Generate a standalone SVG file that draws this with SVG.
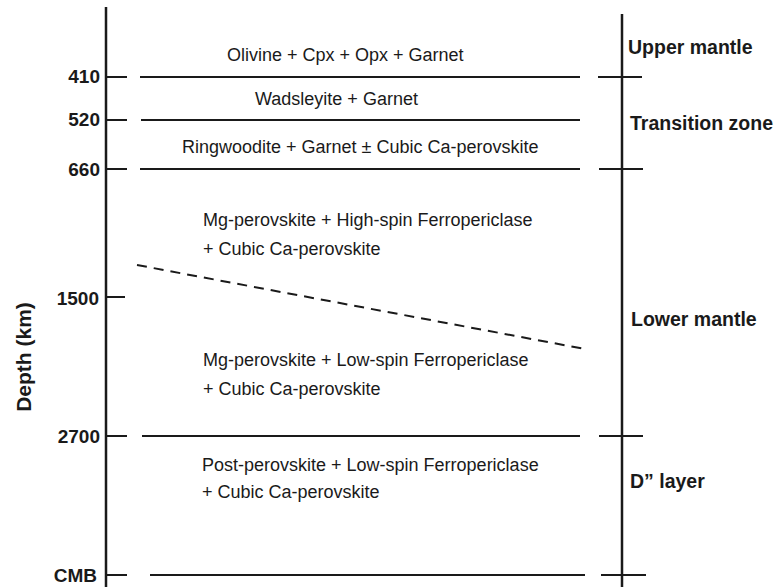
<svg xmlns="http://www.w3.org/2000/svg" width="777" height="587" viewBox="0 0 777 587">
<style>
.ln{stroke:#1a1a1a;stroke-width:2;fill:none}
.ax{stroke:#1a1a1a;stroke-width:2.5;fill:none}
.dash{stroke:#1a1a1a;stroke-width:2;fill:none;stroke-dasharray:10 7}
.t{font-family:"Liberation Sans",Arial,sans-serif;font-size:18px;fill:#1a1a1a}
.b{font-family:"Liberation Sans",Arial,sans-serif;font-size:19px;font-weight:bold;fill:#1a1a1a}
.r{font-size:19.5px}
.n{text-anchor:end}
</style>
<rect width="777" height="587" fill="#fff"/>
<g id="axes">
<line class="ax" x1="106" y1="7" x2="106" y2="587"/>
<line class="ax" x1="622" y1="14" x2="622" y2="587"/>
</g>
<g id="depth-labels">
<text class="b n" x="100" y="83">410</text>
<text class="b n" x="100" y="126">520</text>
<text class="b n" x="100" y="176">660</text>
<text class="b n" x="99" y="305">1500</text>
<text class="b n" x="100" y="443">2700</text>
<text class="b n" x="97" y="582">CMB</text>
<text class="b" style="font-size:21px" text-anchor="middle" transform="translate(31,357) rotate(-90)">Depth (km)</text>
</g>
<g id="connectors">
<line class="ln" x1="107" y1="77" x2="127" y2="77"/>
<line class="ln" x1="107" y1="120" x2="127" y2="120"/>
<line class="ln" x1="107" y1="169" x2="127" y2="169"/>
<line class="ln" x1="107" y1="297" x2="125" y2="297"/>
<line class="ln" x1="107" y1="436" x2="127" y2="436"/>
<line class="ln" x1="107" y1="575" x2="127" y2="575"/>
<line class="ln" x1="140" y1="77" x2="580" y2="77"/>
<line class="ln" x1="598" y1="77" x2="642" y2="77"/>
<line class="ln" x1="141" y1="120" x2="580" y2="120"/>
<line class="ln" x1="140" y1="169" x2="580" y2="169"/>
<line class="ln" x1="599" y1="169" x2="643" y2="169"/>
<line class="dash" x1="137" y1="265" x2="585" y2="349"/>
<line class="ln" x1="142" y1="436" x2="580" y2="436"/>
<line class="ln" x1="599" y1="436" x2="643" y2="436"/>
<line class="ln" x1="150" y1="575" x2="585" y2="575"/>
<line class="ln" x1="601" y1="575" x2="646" y2="575"/>
</g>
<g id="upper-mantle">
<text class="t" x="227" y="61">Olivine + Cpx + Opx + Garnet</text>
<text class="b r" x="628" y="54">Upper mantle</text>
</g>
<g id="transition-zone">
<text class="t" x="255" y="105">Wadsleyite + Garnet</text>
<text class="t" x="182" y="153">Ringwoodite + Garnet ± Cubic Ca-perovskite</text>
<text class="b r" x="630" y="130">Transition zone</text>
</g>
<g id="lower-mantle">
<text class="t" x="203" y="226">Mg-perovskite + High-spin Ferropericlase</text>
<text class="t" x="203" y="255">+ Cubic Ca-perovskite</text>
<text class="t" x="203" y="366">Mg-perovskite + Low-spin Ferropericlase</text>
<text class="t" x="203" y="395">+ Cubic Ca-perovskite</text>
<text class="b r" x="631" y="326">Lower mantle</text>
</g>
<g id="d-layer">
<text class="t" x="202" y="471">Post-perovskite + Low-spin Ferropericlase</text>
<text class="t" x="202" y="498">+ Cubic Ca-perovskite</text>
<text class="b r" x="630" y="488">D” layer</text>
</g>
</svg>
